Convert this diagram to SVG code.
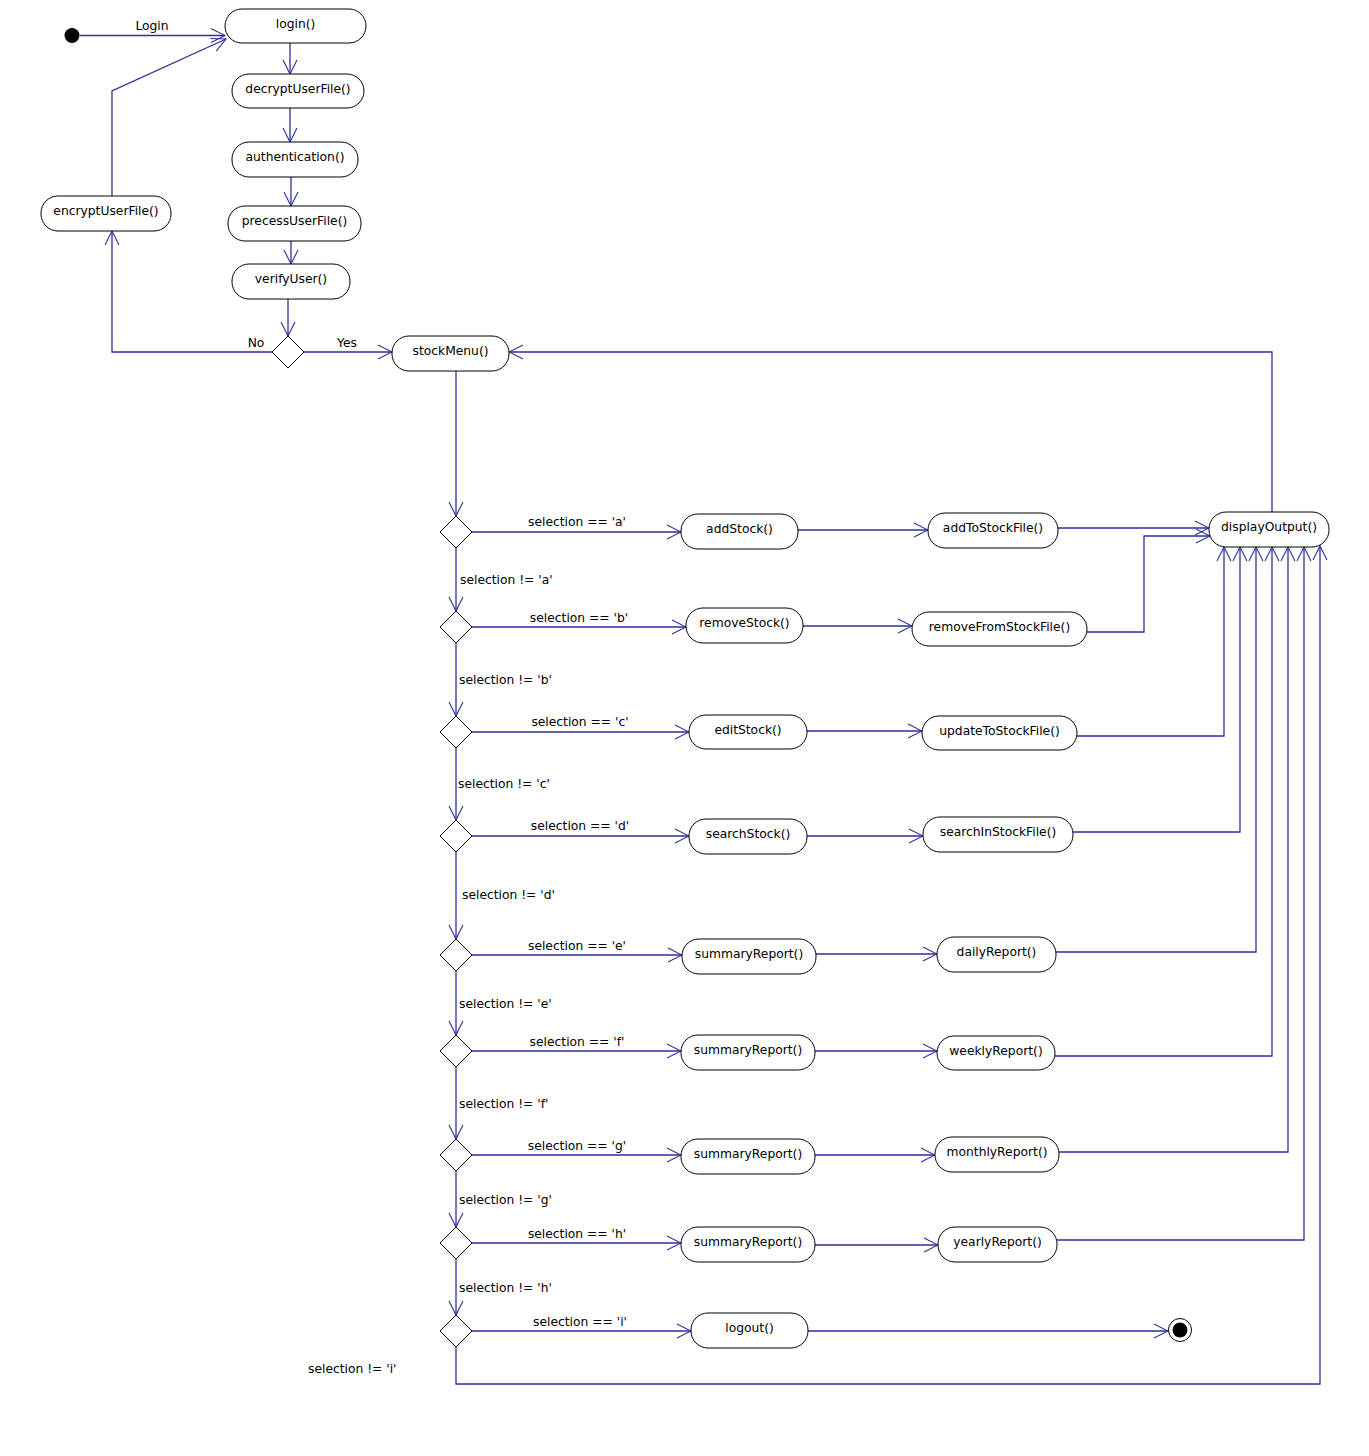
<svg xmlns="http://www.w3.org/2000/svg" width="1369" height="1456" viewBox="0 0 1369 1456">
<style>
  .n rect { fill:#ffffff; stroke:#000000; stroke-width:1; }
  .d polygon { fill:#ffffff; stroke:#000000; stroke-width:1; }
  .t { font-family:"DejaVu Sans","Liberation Sans",sans-serif; font-size:12.3px; fill:#000000; }
  .m { text-anchor:middle; }
  .c path { fill:none; stroke:#2e2e9c; stroke-width:1.3; }
  .a { marker-end:url(#arr); }
</style>
<defs>
  <marker id="arr" markerUnits="userSpaceOnUse" markerWidth="16" markerHeight="16" viewBox="0 0 16 16" refX="15" refY="8" orient="auto">
    <path d="M1,1 L15,8 L1,15" fill="none" stroke="#2e2e9c" stroke-width="1.1"/>
  </marker>
</defs>
<rect width="1369" height="1456" fill="#ffffff"/>

<g id="connectors" class="c">
  <path class="a" d="M80,35.5 H225"/>
  <path class="a" d="M112,196 V91 L226,39"/>
  <path class="a" d="M290,43 V74"/>
  <path class="a" d="M290,108 V142"/>
  <path class="a" d="M291,177 V206"/>
  <path class="a" d="M291,241 V264"/>
  <path class="a" d="M288,299 V336"/>
  <path class="a" d="M272,352 H112 V231"/>
  <path class="a" d="M304,352 H392"/>
  <path class="a" d="M1272,512 V352 H509"/>
  <path class="a" d="M456,371 V516"/>
  <path class="a" d="M456,548 V611"/>
  <path class="a" d="M456,643 V716"/>
  <path class="a" d="M456,748 V820"/>
  <path class="a" d="M456,852 V939"/>
  <path class="a" d="M456,971 V1035"/>
  <path class="a" d="M456,1067 V1139"/>
  <path class="a" d="M456,1171 V1227"/>
  <path class="a" d="M456,1259 V1315"/>
  <path class="a" d="M472,532 H681"/>
  <path class="a" d="M472,627 H686"/>
  <path class="a" d="M472,732 H689"/>
  <path class="a" d="M472,836 H689"/>
  <path class="a" d="M472,955 H682"/>
  <path class="a" d="M472,1051 H681"/>
  <path class="a" d="M472,1155 H681"/>
  <path class="a" d="M472,1243 H681"/>
  <path class="a" d="M472,1331 H691"/>
  <path class="a" d="M798,530 H928"/>
  <path class="a" d="M803,626 H912"/>
  <path class="a" d="M807,731 H922"/>
  <path class="a" d="M807,836 H923"/>
  <path class="a" d="M816,954 H937"/>
  <path class="a" d="M815,1051 H937"/>
  <path class="a" d="M815,1155 H935"/>
  <path class="a" d="M815,1245 H938"/>
  <path class="a" d="M808,1331 H1168"/>
  <path class="a" d="M1058,528 H1209"/>
  <path class="a" d="M1087,632 H1144 V536 H1210"/>
  <path class="a" d="M1077,736 H1224 V547"/>
  <path class="a" d="M1073,832 H1240 V547"/>
  <path class="a" d="M1056,952 H1256 V547"/>
  <path class="a" d="M1055,1056 H1272 V547"/>
  <path class="a" d="M1059,1152 H1288 V547"/>
  <path class="a" d="M1057,1240 H1304 V547"/>
  <path class="a" d="M456,1347 V1384 H1320 V546"/>
</g>

<g id="connector-labels" class="t">
  <text class="m" x="152" y="30">Login</text>
  <text class="m" x="256" y="347">No</text>
  <text class="m" x="347" y="347">Yes</text>
  <text class="m" x="577" y="526">selection == 'a'</text>
  <text class="m" x="579" y="622">selection == 'b'</text>
  <text class="m" x="580" y="726">selection == 'c'</text>
  <text class="m" x="580" y="830">selection == 'd'</text>
  <text class="m" x="577" y="950">selection == 'e'</text>
  <text class="m" x="577" y="1046">selection == 'f'</text>
  <text class="m" x="577" y="1150">selection == 'g'</text>
  <text class="m" x="577" y="1238">selection == 'h'</text>
  <text class="m" x="580" y="1326">selection == 'i'</text>
  <text x="460" y="584">selection != 'a'</text>
  <text x="459" y="684">selection != 'b'</text>
  <text x="458" y="788">selection != 'c'</text>
  <text x="462" y="899">selection != 'd'</text>
  <text x="459" y="1008">selection != 'e'</text>
  <text x="459" y="1108">selection != 'f'</text>
  <text x="459" y="1204">selection != 'g'</text>
  <text x="459" y="1292">selection != 'h'</text>
  <text x="308" y="1373">selection != 'i'</text>
</g>

<g id="start"><circle cx="72" cy="35.5" r="7.5" fill="#000000"/></g>
<g id="end"><circle cx="1180" cy="1330" r="11.5" fill="#ffffff" stroke="#000000" stroke-width="1"/><circle cx="1180" cy="1330" r="7.5" fill="#000000"/></g>

<g id="n-login" class="n"><rect x="225" y="9" width="141" height="34" rx="17"/><text class="t m" x="295.5" y="28">login()</text></g>
<g id="n-decrypt" class="n"><rect x="232" y="74" width="132" height="34" rx="17"/><text class="t m" x="298" y="93">decryptUserFile()</text></g>
<g id="n-auth" class="n"><rect x="232" y="142" width="126" height="35" rx="17"/><text class="t m" x="295" y="161">authentication()</text></g>
<g id="n-precess" class="n"><rect x="228" y="206" width="133" height="35" rx="17"/><text class="t m" x="294.5" y="225">precessUserFile()</text></g>
<g id="n-verify" class="n"><rect x="232" y="264" width="118" height="35" rx="17"/><text class="t m" x="291" y="283">verifyUser()</text></g>
<g id="n-encrypt" class="n"><rect x="41" y="196" width="130" height="35" rx="17"/><text class="t m" x="106" y="215">encryptUserFile()</text></g>
<g id="d-verify" class="d"><polygon points="288,336 304,352 288,368 272,352"/></g>
<g id="n-stockmenu" class="n"><rect x="392" y="336" width="117" height="35" rx="17"/><text class="t m" x="450.5" y="355">stockMenu()</text></g>

<g id="d-a" class="d"><polygon points="456,516 472,532 456,548 440,532"/></g>
<g id="d-b" class="d"><polygon points="456,611 472,627 456,643 440,627"/></g>
<g id="d-c" class="d"><polygon points="456,716 472,732 456,748 440,732"/></g>
<g id="d-d" class="d"><polygon points="456,820 472,836 456,852 440,836"/></g>
<g id="d-e" class="d"><polygon points="456,939 472,955 456,971 440,955"/></g>
<g id="d-f" class="d"><polygon points="456,1035 472,1051 456,1067 440,1051"/></g>
<g id="d-g" class="d"><polygon points="456,1139 472,1155 456,1171 440,1155"/></g>
<g id="d-h" class="d"><polygon points="456,1227 472,1243 456,1259 440,1243"/></g>
<g id="d-i" class="d"><polygon points="456,1315 472,1331 456,1347 440,1331"/></g>

<g id="n-addstock" class="n"><rect x="681" y="514" width="117" height="35" rx="17"/><text class="t m" x="739.5" y="533">addStock()</text></g>
<g id="n-addtofile" class="n"><rect x="928" y="513" width="130" height="35" rx="17"/><text class="t m" x="993" y="532">addToStockFile()</text></g>
<g id="n-display" class="n"><rect x="1209" y="512" width="120" height="35" rx="17"/><text class="t m" x="1269" y="531">displayOutput()</text></g>
<g id="n-removestock" class="n"><rect x="686" y="608" width="117" height="35" rx="17"/><text class="t m" x="744.5" y="627">removeStock()</text></g>
<g id="n-removefile" class="n"><rect x="912" y="612" width="175" height="34" rx="17"/><text class="t m" x="999.5" y="631">removeFromStockFile()</text></g>
<g id="n-editstock" class="n"><rect x="689" y="715" width="118" height="34" rx="17"/><text class="t m" x="748" y="734">editStock()</text></g>
<g id="n-updatefile" class="n"><rect x="922" y="716" width="155" height="34" rx="17"/><text class="t m" x="999.5" y="735">updateToStockFile()</text></g>
<g id="n-searchstock" class="n"><rect x="689" y="819" width="118" height="35" rx="17"/><text class="t m" x="748" y="838">searchStock()</text></g>
<g id="n-searchfile" class="n"><rect x="923" y="817" width="150" height="35" rx="17"/><text class="t m" x="998" y="836">searchInStockFile()</text></g>
<g id="n-summary-e" class="n"><rect x="682" y="939" width="134" height="35" rx="17"/><text class="t m" x="749" y="958">summaryReport()</text></g>
<g id="n-daily" class="n"><rect x="937" y="937" width="119" height="35" rx="17"/><text class="t m" x="996.5" y="956">dailyReport()</text></g>
<g id="n-summary-f" class="n"><rect x="681" y="1035" width="134" height="35" rx="17"/><text class="t m" x="748" y="1054">summaryReport()</text></g>
<g id="n-weekly" class="n"><rect x="937" y="1036" width="118" height="34" rx="17"/><text class="t m" x="996" y="1055">weeklyReport()</text></g>
<g id="n-summary-g" class="n"><rect x="681" y="1139" width="134" height="35" rx="17"/><text class="t m" x="748" y="1158">summaryReport()</text></g>
<g id="n-monthly" class="n"><rect x="935" y="1137" width="124" height="35" rx="17"/><text class="t m" x="997" y="1156">monthlyReport()</text></g>
<g id="n-summary-h" class="n"><rect x="681" y="1227" width="134" height="35" rx="17"/><text class="t m" x="748" y="1246">summaryReport()</text></g>
<g id="n-yearly" class="n"><rect x="938" y="1227" width="119" height="35" rx="17"/><text class="t m" x="997.5" y="1246">yearlyReport()</text></g>
<g id="n-logout" class="n"><rect x="691" y="1313" width="117" height="35" rx="17"/><text class="t m" x="749.5" y="1332">logout()</text></g>
</svg>
